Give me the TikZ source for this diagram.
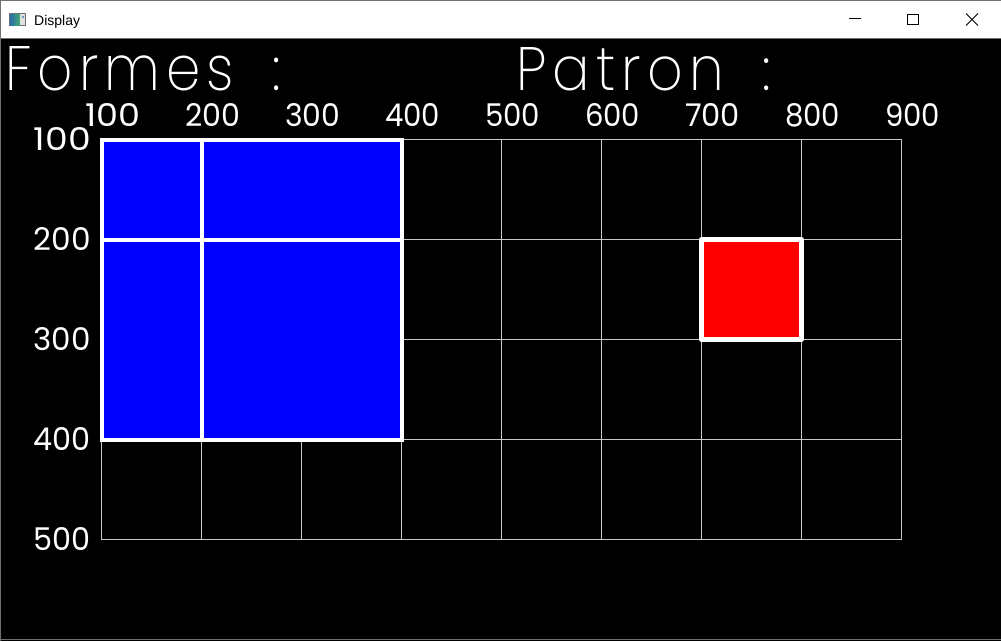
\documentclass[tikz,border=0pt]{standalone}
\usepackage{fontspec}
\setmainfont{Poppins}[Numbers=Monospaced]
\IfFontExistsTF{Poppins ExtraLight}{\newfontfamily\titlefont{Poppins ExtraLight}[LetterSpace=11,WordSpace=1.8]}{%
  \IfFontExistsTF{Poppins Light}{\newfontfamily\titlefont{Poppins Light}[LetterSpace=11,WordSpace=1.8]}{\newfontfamily\titlefont{Poppins}[LetterSpace=11,WordSpace=1.8]}}
\newfontfamily\winfont{Liberation Sans}
\definecolor{gridgray}{RGB}{200,200,200}
\definecolor{borderg}{RGB}{112,112,112}
\definecolor{pureblue}{RGB}{0,0,255}
\definecolor{purered}{RGB}{255,0,0}
\definecolor{icona}{RGB}{40,110,170}
\definecolor{iconb}{RGB}{70,170,110}
\newcommand{\toplbl}[1]{\resizebox{55pt}{23pt}{\fontsize{33}{33}\selectfont #1}}
\newcommand{\sidelbl}[1]{\resizebox{57pt}{23pt}{\fontsize{33}{33}\selectfont #1}}
\begin{document}
\begin{tikzpicture}[x=1pt,y=-1pt,
  numlbl/.style={text=white, inner sep=0pt},
  titlelbl/.style={text=white, inner sep=0pt, anchor=base west},
  gridline/.style={draw=gridgray, line width=1pt},
  cellborder/.style={draw=white, line width=4pt},
  patborder/.style={draw=white, line width=5pt, line join=round},
  winbtn/.style={draw=black, line width=1pt}]
\useasboundingbox (0,0) rectangle (1001,641);
% window
\fill[white] (0,0) rectangle (1001,38);
\fill[black] (0,38) rectangle (1001,641);
\draw[borderg, line width=1pt] (0,0.5) -- (1001,0.5);
\draw[borderg, line width=1pt] (0,38.5) -- (1001,38.5);
\draw[borderg, line width=1pt] (0.5,0) -- (0.5,641);
\draw[borderg, line width=1pt] (0,639.5) -- (1001,639.5);
% title bar
\draw[borderg, line width=0.8pt] (9.5,13.5) rectangle (25.5,25.5);
\shade[left color=icona, right color=iconb] (10,14) rectangle (20,25);
\fill[gray!25] (20,14) rectangle (25,25);
\fill[icona!70] (21.5,15.5) rectangle (23.5,18);
\node[anchor=base west, inner sep=0pt, font=\winfont\fontsize{14}{14}\selectfont] (wintitle) at (34,25) {Display};
\draw[winbtn] (849,18.5) -- (861,18.5);
\draw[winbtn] (907.5,14.5) rectangle (918.5,24.5);
\draw[winbtn] (966,13.5) -- (978,25.5);
\draw[winbtn] (966,25.5) -- (978,13.5);
% grid
\foreach \i in {0,...,8} \draw[gridline] ({101.5+100*\i},139.5) -- ({101.5+100*\i},539.5);
\foreach \j in {0,...,4} \draw[gridline] (101.5,{139.5+100*\j}) -- (901.5,{139.5+100*\j});
% shapes
\fill[pureblue] (101.5,139.5) rectangle (401.5,439.5);
\draw[cellborder] (101.5,139.5) rectangle (201.5,239.5);
\draw[cellborder] (201.5,139.5) rectangle (401.5,239.5);
\draw[cellborder] (101.5,239.5) rectangle (201.5,439.5);
\draw[cellborder] (201.5,239.5) rectangle (401.5,439.5);
\fill[purered] (701.5,239.5) rectangle (801.5,339.5);
\draw[patborder] (701.5,239.5) rectangle (801.5,339.5);
% labels
\foreach \v in {100,200,...,900} \node[numlbl, anchor=base] (top\v) at ({\v+12.5},126.5) {\toplbl{\v}};
\foreach \v in {100,200,...,500} \node[numlbl, anchor=base east] (left\v) at (91,{\v+50.5}) {\sidelbl{\v}};
\node[titlelbl] (formes) at (5,90) {\resizebox{276pt}{44pt}{\titlefont Formes :}};
\node[titlelbl] (patron) at (516,90) {\resizebox{255pt}{43pt}{\titlefont Patron :}};
\end{tikzpicture}
\end{document}
